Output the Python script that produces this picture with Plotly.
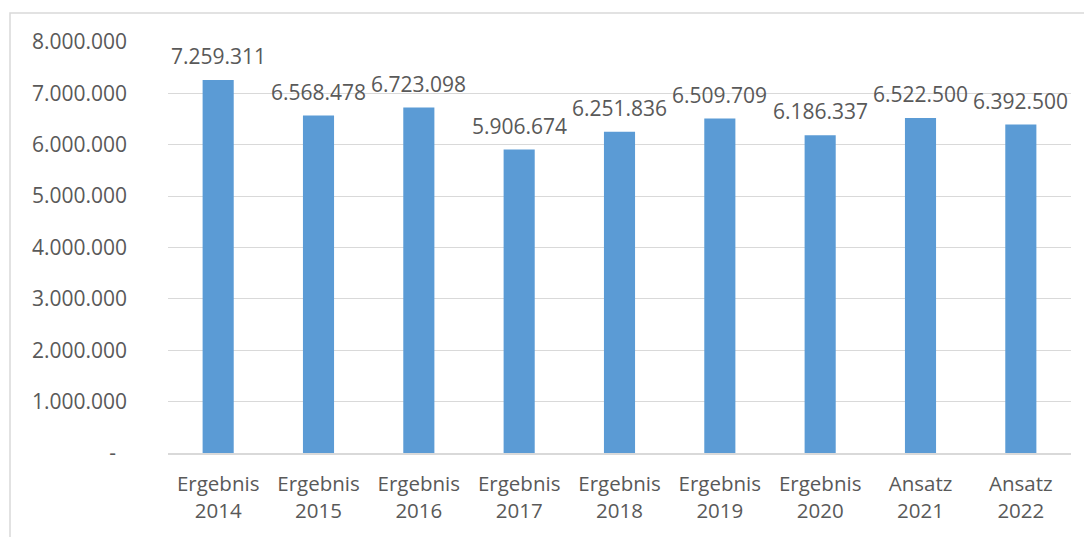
import plotly.graph_objects as go

categories = ["Ergebnis<br>2014", "Ergebnis<br>2015", "Ergebnis<br>2016", "Ergebnis<br>2017",
              "Ergebnis<br>2018", "Ergebnis<br>2019", "Ergebnis<br>2020", "Ansatz<br>2021", "Ansatz<br>2022"]
values = [7259311, 6568478, 6723098, 5906674, 6251836, 6509709, 6186337, 6522500, 6392500]
value_labels = ["7.259.311", "6.568.478", "6.723.098", "5.906.674", "6.251.836",
                "6.509.709", "6.186.337", "6.522.500", "6.392.500"]
tick_vals = [0, 1000000, 2000000, 3000000, 4000000, 5000000, 6000000, 7000000, 8000000]
tick_text = ["-  ", "1.000.000", "2.000.000", "3.000.000", "4.000.000", "5.000.000",
             "6.000.000", "7.000.000", "8.000.000"]

# page has an 8px body margin; compensate
W, H = 1084, 529
L, R, T, B = 160, 21, 34, 84
FONT = "Open Sans"
TXT = "#595959"

fig = go.Figure()
fig.add_trace(go.Bar(x=categories, y=values, marker=dict(color="#5B9BD5", line=dict(width=0)),
                     hoverinfo="skip"))

for c, v, t in zip(categories, values, value_labels):
    fig.add_annotation(x=c, y=v, text=t, showarrow=False, yanchor="bottom", yshift=8,
                       font=dict(family=FONT, size=21, color=TXT))

pw = W - L - R
ph = H - T - B
fig.add_shape(type="rect", xref="paper", yref="paper",
              x0=(2 - L) / pw, x1=(W + 20 - L) / pw,
              y0=-(H + 20 - T - ph) / ph, y1=1 + (T - 5) / ph,
              line=dict(color="#D9D9D9", width=1.5), fillcolor="rgba(0,0,0,0)", layer="below")

fig.update_layout(
    width=W, height=H,
    margin=dict(l=L, r=R, t=T, b=B),
    plot_bgcolor="white", paper_bgcolor="white",
    bargap=0.69,
    showlegend=False,
    font=dict(family=FONT, size=20, color=TXT),
)
fig.update_xaxes(showgrid=False, showline=True, linecolor="#D9D9D9", linewidth=1.5,
                 ticks="", tickfont=dict(family=FONT, size=20.5, color=TXT), ticklabelstandoff=12)
fig.update_yaxes(range=[0, 8000000], tickvals=tick_vals, ticktext=tick_text,
                 showgrid=True, gridcolor="#D9D9D9", gridwidth=1, zeroline=False,
                 showline=False, ticks="", ticklabelstandoff=40,
                 tickfont=dict(family=FONT, size=21, color=TXT))

fig.write_html("out.html")
